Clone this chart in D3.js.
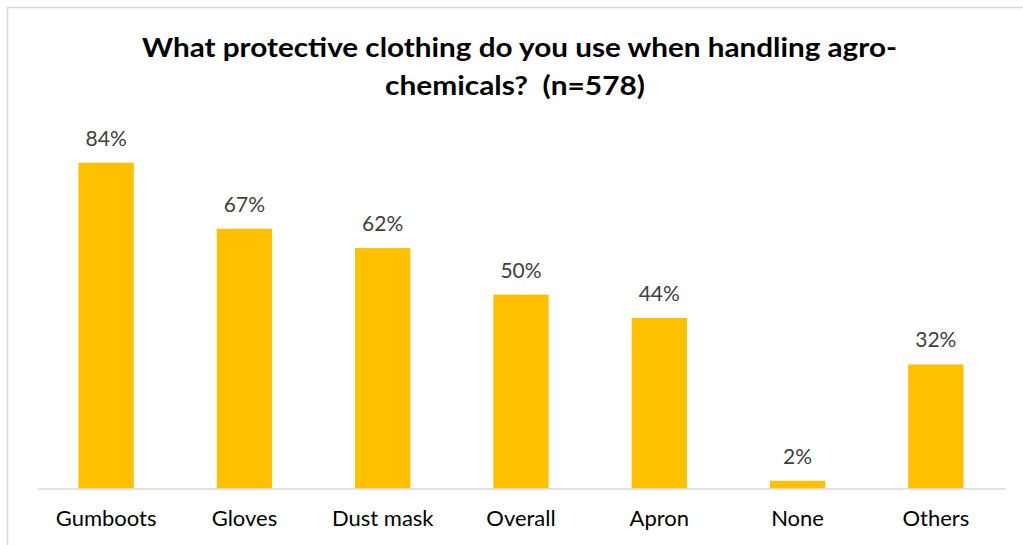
<!DOCTYPE html>
<html>
<head>
<meta charset="utf-8">
<script src="https://cdn.jsdelivr.net/npm/d3@7"></script>
<style>
  html, body { margin: 0; padding: 0; background: #fff; }
  svg { display: block; }
</style>
</head>
<body>
<svg id="chart" width="1023" height="545"></svg>
<script>
// Share of respondents using each item of protective clothing
const categories = ["Gumboots", "Gloves", "Dust mask", "Overall", "Apron", "None", "Others"];
const percentages = [84, 67, 62, 50, 44, 2, 32];
const titleLines = ["What protective clothing do you use when handling agro-", "chemicals?  (n=578)"];

const width = 1023, height = 545;
const svg = d3.select("#chart");
const font = "Lato, 'Open Sans', sans-serif";

// Chart frame
svg.append("rect")
  .attr("x", 7.5).attr("y", 7.5)
  .attr("width", 1030).attr("height", 560)
  .attr("fill", "#fff").attr("stroke", "#d9d9d9").attr("stroke-width", 1.5);

const plot = { left: 37, right: 1005, top: 139.5, bottom: 488.5 };

const x = d3.scaleBand()
  .domain(categories)
  .range([plot.left, plot.right])
  .paddingInner(0.6)
  .paddingOuter(0.3);

const y = d3.scaleLinear()
  .domain([0, 90])
  .range([plot.bottom, plot.top]);

// Title
const titleWidths = [755, 260];
svg.append("g").selectAll("text")
  .data(titleLines)
  .join("text")
  .attr("x", (d, i) => i === 0 ? 519.5 : 515)
  .attr("y", (d, i) => 57 + i * 38)
  .attr("text-anchor", "middle")
  .attr("font-family", font)
  .attr("font-weight", "bold")
  .attr("font-size", 27)
  .attr("fill", "#000")
  .attr("textLength", (d, i) => titleWidths[i])
  .attr("lengthAdjust", "spacingAndGlyphs")
  .style("white-space", "pre")
  .text(d => d);

// Bars
svg.append("g").selectAll("rect")
  .data(percentages)
  .join("rect")
  .attr("x", (d, i) => x(categories[i]))
  .attr("y", d => y(d))
  .attr("width", x.bandwidth())
  .attr("height", d => y(0) - y(d))
  .attr("fill", "#FFC000");

// Category axis
const xAxis = svg.append("g")
  .attr("transform", `translate(0,${plot.bottom})`)
  .call(d3.axisBottom(x).tickSize(0).tickPadding(22));
xAxis.select(".domain").attr("stroke", "#d9d9d9").attr("stroke-width", 1.5);
xAxis.selectAll("text")
  .attr("font-family", font)
  .attr("font-size", 22)
  .attr("fill", "#000");

// Value labels
svg.append("g").selectAll("text")
  .data(percentages)
  .join("text")
  .attr("x", (d, i) => x(categories[i]) + x.bandwidth() / 2)
  .attr("y", d => y(d) - 17)
  .attr("text-anchor", "middle")
  .attr("font-family", font)
  .attr("font-size", 21)
  .attr("fill", "#404040")
  .text(d => d + "%");
</script>
</body>
</html>
